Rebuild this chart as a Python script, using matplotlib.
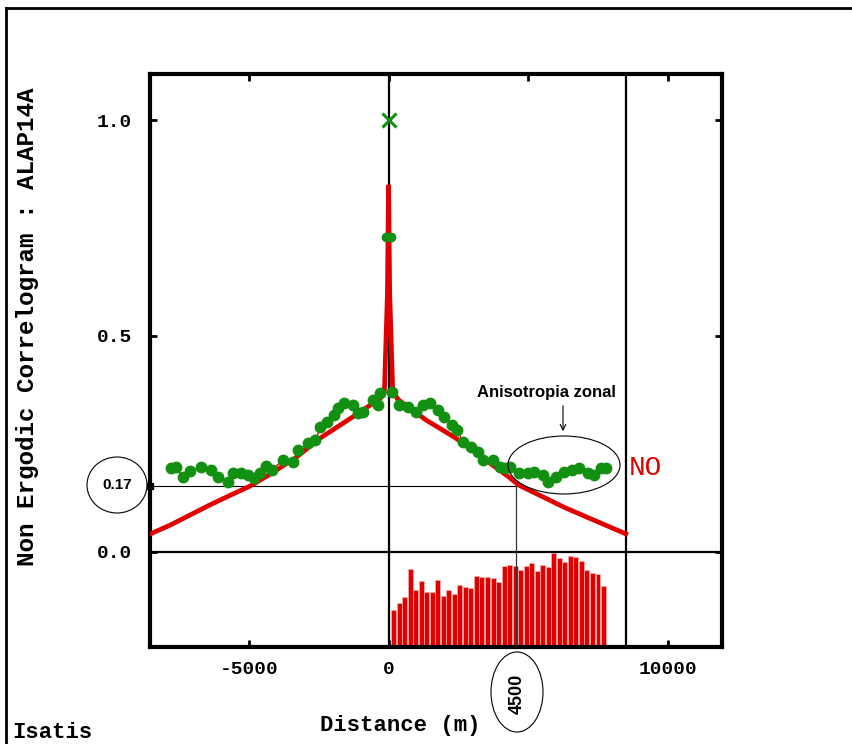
import numpy as np
import matplotlib
matplotlib.use('Agg')
import matplotlib.pyplot as plt
from matplotlib.patches import Ellipse
from matplotlib.lines import Line2D

# model correlogram (red)
model_dist = [-8530, -7800, -6400, -5650, -4950, -4300, -3330, -2440, -1180, -290, -150, -40, 0,
              40, 150, 360, 1330, 2400, 3480, 4300, 4660, 6340, 8500]
model_val = [0.042, 0.063, 0.109, 0.132, 0.153, 0.178, 0.218, 0.264, 0.317, 0.356, 0.37, 0.6, 0.85,
             0.6, 0.37, 0.352, 0.306, 0.264, 0.213, 0.174, 0.155, 0.102, 0.042]

# experimental correlogram, negative direction
exp_left_dist = [-7810, -7630, -7380, -7100, -6740, -6380, -6130, -5770, -5560, -5300, -5050, -4840,
                 -4590, -4410, -4160, -3800, -3440, -3230, -2870, -2620, -2440, -2190, -1970, -1830,
                 -1610, -1290, -1110, -900, -570, -390, -290]
exp_left_val = [0.194, 0.197, 0.174, 0.187, 0.197, 0.190, 0.174, 0.162, 0.183, 0.183, 0.178, 0.171,
                0.183, 0.200, 0.190, 0.213, 0.208, 0.236, 0.252, 0.259, 0.289, 0.301, 0.317, 0.333,
                0.345, 0.340, 0.322, 0.324, 0.352, 0.340, 0.368]

# experimental correlogram, positive direction
exp_right_dist = [140, 360, 680, 970, 1220, 1500, 1760, 1970, 2290, 2470, 2650, 2940, 3190, 3370,
                  3730, 4010, 4190, 4370, 4660, 4980, 5200, 5520, 5730, 5990, 6270, 6590, 6810,
                  7130, 7350, 7600, 7780]
exp_right_val = [0.370, 0.340, 0.336, 0.324, 0.340, 0.345, 0.329, 0.312, 0.294, 0.282, 0.255, 0.243,
                 0.231, 0.213, 0.213, 0.197, 0.194, 0.197, 0.183, 0.183, 0.185, 0.178, 0.162, 0.174,
                 0.185, 0.190, 0.194, 0.183, 0.178, 0.194, 0.194]

center_dist = [-90, 90]
center_val = [0.73, 0.73]

# pair counts histogram (relative)
pair_counts = [110, 132, 150, 233, 171, 197, 164, 164, 200, 153, 171, 157, 186, 178, 175, 212, 208,
               208, 204, 193, 240, 245, 241, 230, 240, 251, 226, 245, 237, 279, 266, 252, 270, 267,
               255, 230, 219, 216, 183]
lag_step = 198
lag_dist = 180 + lag_step * np.arange(len(pair_counts))

RED = '#e00000'
GREEN = '#119011'
MONO = 'Liberation Mono'
SANS = 'Liberation Sans'

W, H = 853, 744
fig = plt.figure(figsize=(W / 100, H / 100), dpi=100)
fig.patch.set_facecolor('white')


def fx(px):
    return px / W


def fy(py):
    return 1 - py / H


ax = fig.add_axes([fx(150), fy(647), fx(722) - fx(150), fy(74) - fy(647)])
xmin, xmax = -8550, 11950
ymin, ymax = -0.22, 1.1065
ax.set_xlim(xmin, xmax)
ax.set_ylim(ymin, ymax)

# histogram of pairs
counts = np.array(pair_counts, dtype=float)
bar_h = counts / counts.max() * (0.0 - ymin - 0.003)
ax.bar(lag_dist, bar_h, width=lag_step * 0.9, bottom=ymin, color=RED,
       edgecolor='#f4b0b0', linewidth=0.5, zorder=2)

# reference lines
ax.axhline(0, color='black', lw=1.6, zorder=3)
ax.axvline(0, color='black', lw=1.6, zorder=3)
ax.axvline(8500, color='black', lw=1.6, zorder=3)
ax.plot([xmin, 4550], [0.153, 0.153], color='black', lw=0.8, zorder=3)
ax.plot([4550, 4550], [ymin, 0.153], color='#333333', lw=0.9, zorder=3)
ax.plot([xmin], [0.153], marker='s', color='black', ms=5, clip_on=False, zorder=6)

# model
ax.plot(model_dist, model_val, color=RED, lw=3.4, zorder=4, solid_joinstyle='miter')

# experimental points
for d, v in ((exp_left_dist, exp_left_val), (exp_right_dist, exp_right_val)):
    ax.plot(d, v, color=RED, lw=1.0, zorder=4.5)
    ax.plot(d, v, 'o', color=GREEN, ms=7.5, mec=GREEN, zorder=5)
ax.plot(center_dist, center_val, 'o', color=GREEN, ms=6, zorder=5)
ax.plot([0], [1.0], 'x', color=GREEN, ms=10, mew=2.2, zorder=6)

# axes styling
for s in ax.spines.values():
    s.set_linewidth(3)
ax.set_xticks([-5000, 0, 5000, 10000])
ax.set_xticklabels(['-5000', '0', '', '10000'])
ax.set_yticks([0.0, 0.5, 1.0])
ax.set_yticklabels(['0.0', '0.5', '1.0'])
ax.tick_params(direction='in', length=5, width=2, top=True, right=True)
ax.tick_params(axis='x', pad=10)
ax.tick_params(axis='y', pad=13)
for lab in ax.get_xticklabels() + ax.get_yticklabels():
    lab.set_fontfamily(MONO)
    lab.set_fontweight('bold')
    lab.set_fontsize(14)

# outer frame
fig.add_artist(Line2D([fx(6), fx(6)], [0, fy(8)], transform=fig.transFigure, color='black', lw=2))
fig.add_artist(Line2D([fx(6), 1], [fy(8), fy(8)], transform=fig.transFigure, color='black', lw=2))

# labels
fig.text(fx(28), fy(327), 'Non Ergodic Correlogram : ALAP14A', rotation=90, ha='center', va='center',
         family=MONO, weight='bold', fontsize=17.5)
fig.text(fx(400), fy(726), 'Distance (m)', ha='center', va='center', family=MONO, weight='bold',
         fontsize=16)
fig.text(fx(12), fy(733), 'Isatis', ha='left', va='center', family=MONO, weight='bold', fontsize=16)
fig.text(fx(629), fy(468), 'NO', ha='left', va='center', family=MONO, color=RED, fontsize=20)

# annotations
fig.text(fx(117), fy(485), '0.17', ha='center', va='center', family=SANS, weight='bold', fontsize=11)
fig.add_artist(Ellipse((fx(117), fy(485)), fx(60), 56 / H, transform=fig.transFigure,
                       fill=False, ec='black', lw=0.8))
fig.text(fx(517), fy(694), '4500', rotation=90, ha='center', va='center', family=SANS,
         weight='bold', fontsize=13)
fig.add_artist(Ellipse((fx(517), fy(692)), fx(52), 80 / H, transform=fig.transFigure,
                       fill=False, ec='black', lw=0.8))
fig.text(fx(546), fy(393), 'Anisotropia zonal', ha='center', va='center', family=SANS,
         weight='bold', fontsize=12)
fig.add_artist(Ellipse((fx(564), fy(465)), fx(112), 58 / H, transform=fig.transFigure,
                       fill=False, ec='black', lw=0.8))
ax.annotate('', xy=(fx(563), fy(434)), xycoords='figure fraction',
            xytext=(fx(563), fy(403)), textcoords='figure fraction',
            arrowprops=dict(arrowstyle='->', color='black', lw=0.8))

fig.savefig('out.png', dpi=100)
